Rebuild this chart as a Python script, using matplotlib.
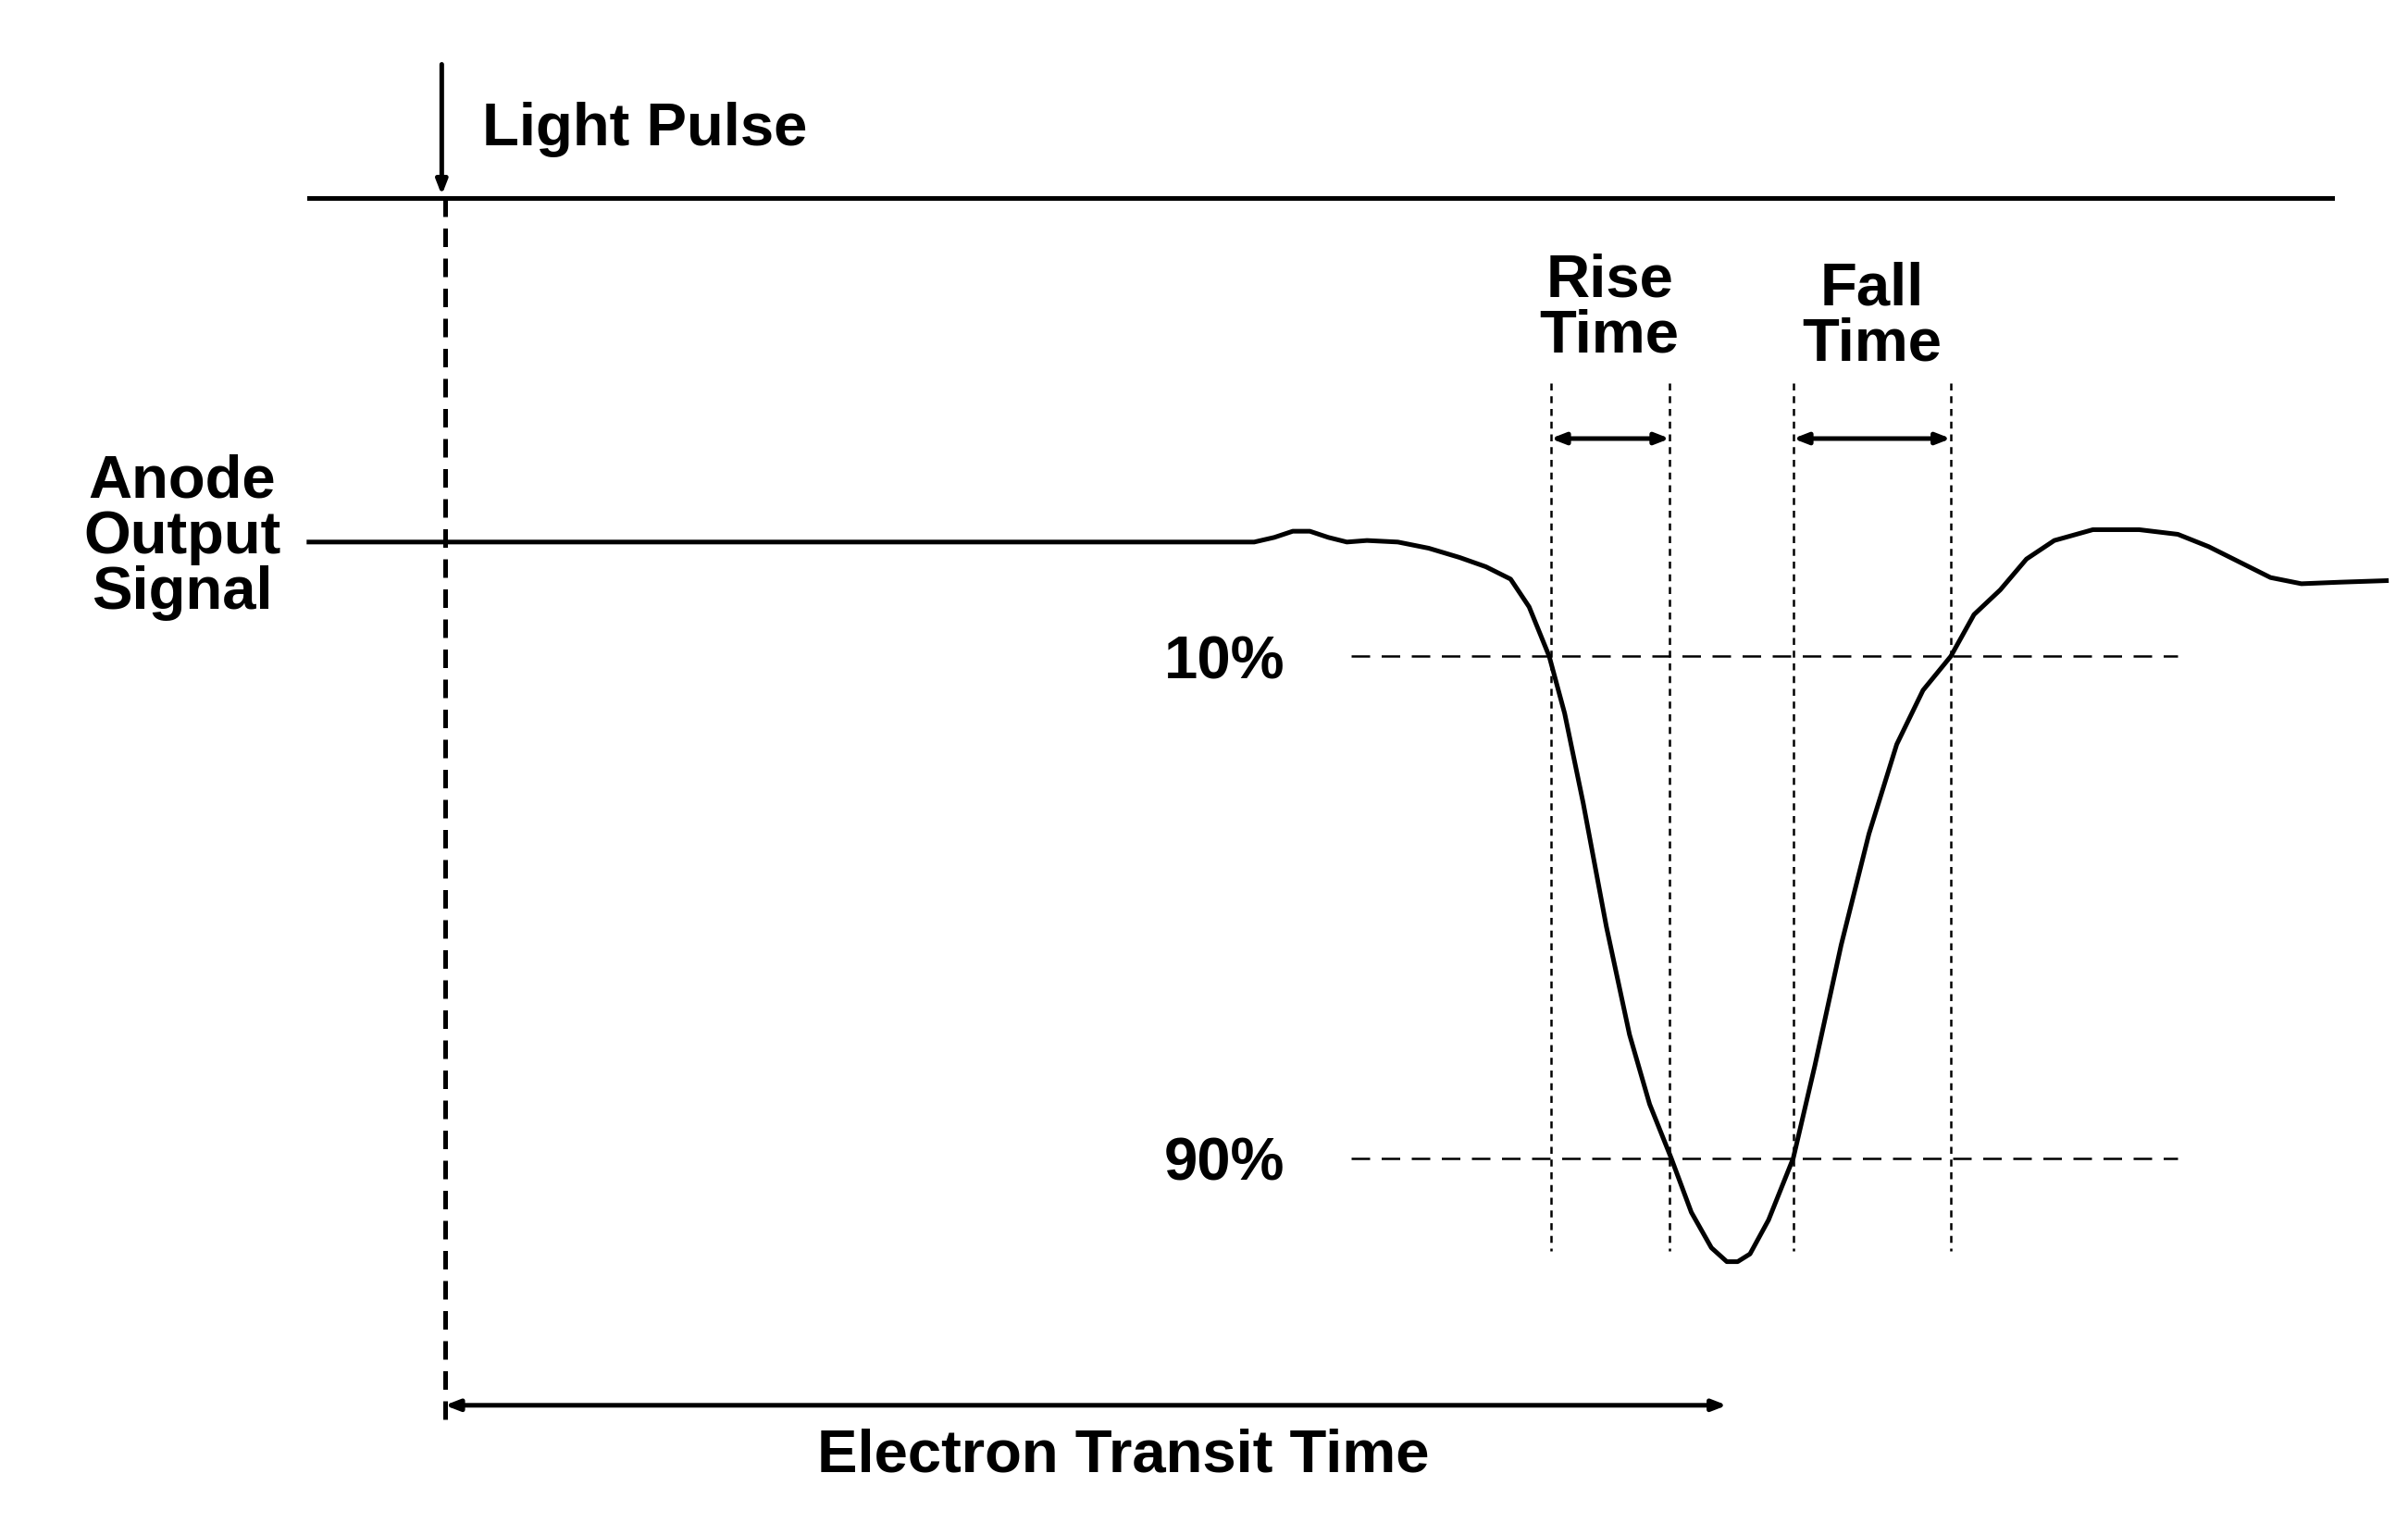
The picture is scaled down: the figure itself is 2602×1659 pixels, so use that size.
import matplotlib
matplotlib.use("Agg")
import matplotlib.pyplot as plt

# waveform samples, in picture units (x right, y down)
wave_x = [200, 800, 812, 825, 837, 848, 860, 872, 885, 905, 925, 945, 962, 978, 990, 1003,
          1013, 1025, 1040, 1055, 1068, 1082, 1095, 1108, 1118, 1125, 1133, 1145, 1161,
          1175, 1192, 1210, 1228, 1245, 1263, 1278, 1295, 1312, 1330, 1355, 1385, 1410,
          1430, 1450, 1470, 1490, 1515, 1545]
wave_y = [351, 351, 351, 348, 344, 344, 348, 351, 350, 351, 355, 361, 367, 375, 393, 425,
          462, 520, 600, 670, 715, 750, 785, 808, 817, 817, 812, 790, 750,
          690, 612, 540, 482, 447, 425, 398, 382, 362, 350, 343, 343, 346,
          354, 364, 374, 378, 377, 376]

levels = [425, 750]
level_labels = ["10%", "90%"]
cross_x = [1004, 1081, 1161, 1263]

fig = plt.figure(figsize=(26.02, 16.59), dpi=100)
ax = fig.add_axes([0, 0, 1, 1])
ax.set_xlim(0, 1559)
ax.set_ylim(994, 0)
ax.axis("off")
plt.rcParams["font.family"] = ["Liberation Sans", "DejaVu Sans"]
txt = dict(fontsize=47, fontweight="bold", family=["Liberation Sans", "DejaVu Sans"])
lw = 3.6

ax.plot(wave_x, wave_y, color="black", lw=lw)
ax.plot([200, 1510], [128, 128], color="black", lw=lw)
ax.plot([288, 288], [128, 925], color="black", lw=lw, ls=(0, (4, 2.5)))
ax.annotate("", xy=(286, 128), xytext=(286, 40),
            arrowprops=dict(arrowstyle="-|>,head_length=0.9,head_width=0.35", color="black", lw=lw))
ax.text(312, 84, "Light Pulse", ha="left", va="center", **txt)
ax.text(118, 348, "Anode\nOutput\nSignal", ha="center", va="center", linespacing=1.0, **txt)

for y, lab in zip(levels, level_labels):
    ax.plot([875, 1410], [y, y], color="black", lw=1.8, ls=(0, (8, 5)))
    ax.text(832, y + 4, lab, ha="right", va="center", **txt)
for x in cross_x:
    ax.plot([x, x], [248, 810], color="black", lw=1.8, ls=(0, (3, 2.5)))

arr = dict(arrowstyle="<|-|>,head_length=0.9,head_width=0.35", color="black", lw=lw,
           shrinkA=0, shrinkB=0)
ax.annotate("", xy=(cross_x[0], 284), xytext=(cross_x[1], 284), arrowprops=arr)
ax.annotate("", xy=(cross_x[2], 284), xytext=(cross_x[3], 284), arrowprops=arr)
ax.text(1042, 200, "Rise\nTime", ha="center", va="center", linespacing=1.0, **txt)
ax.text(1212, 205, "Fall\nTime", ha="center", va="center", linespacing=1.0, **txt)

ax.annotate("", xy=(288, 910), xytext=(1118, 910), arrowprops=arr)
ax.text(727, 943, "Electron Transit Time", ha="center", va="center", **txt)

fig.savefig("out.png", dpi=100, facecolor="white")
